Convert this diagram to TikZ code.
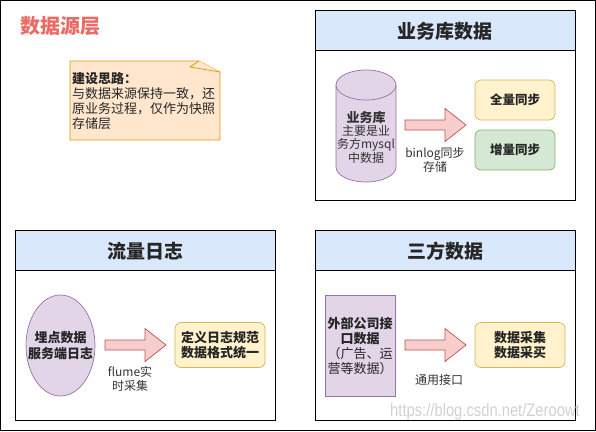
\documentclass[tikz,border=0pt]{standalone}
\usepackage{fontspec}
\setmainfont{Noto Sans CJK SC}
\newfontfamily\wmfont{Liberation Sans}
\usetikzlibrary{shapes.geometric}
\definecolor{hdrblue}{HTML}{DAE8FC}
\definecolor{purfill}{HTML}{E1D5E7}
\definecolor{purline}{HTML}{9673A6}
\definecolor{redfill}{HTML}{F8CECC}
\definecolor{redline}{HTML}{B85450}
\definecolor{yelfill}{HTML}{FFF2CC}
\definecolor{yelline}{HTML}{D6B656}
\definecolor{grnfill}{HTML}{D5E8D4}
\definecolor{grnline}{HTML}{82B366}
\definecolor{notefill}{HTML}{FFE6CC}
\definecolor{noteline}{HTML}{D79B00}
\definecolor{titlered}{HTML}{EA6B66}
\definecolor{txt}{HTML}{333333}
\tikzset{
  panel/.style={draw=black, line width=0.9pt},
  header/.style={draw=black, line width=0.9pt, fill=hdrblue},
  hdrtext/.style={font=\fontsize{19}{22}\selectfont\bfseries, text=black!85},
  body/.style={font=\fontsize{12}{13.5}\selectfont, align=center, text=txt, inner sep=0pt},
  bodyb/.style={font=\fontsize{13}{15.5}\selectfont\bfseries, align=center, text=black!85, inner sep=0pt},
  ybox/.style={draw=yelline, fill=yelfill, rounded corners=6pt, line width=0.7pt},
  gbox/.style={draw=grnline, fill=grnfill, rounded corners=6pt, line width=0.7pt},
  pshape/.style={draw=purline, fill=purfill, line width=0.7pt},
  barrow/.pic={
    \draw[draw=redline, fill=redfill, line width=0.7pt]
      (0,-5) -- (40,-5) -- (40,-16.5) -- (61,0) -- (40,16.5) -- (40,5) -- (0,5) -- cycle;
  }
}
\begin{document}
\begin{tikzpicture}[x=1pt,y=-1pt]
\useasboundingbox (0,0) rectangle (596,431);
\draw[line width=1.2pt] (0.6,0.6) rectangle (595.4,430.4);

% title
\node[font=\fontsize{20}{22}\selectfont\bfseries, text=titlered, inner sep=0pt] (title) at (60,26) {数据源层};

% note
\draw[draw=noteline, fill=notefill, line width=0.7pt] (70,61) -- (199,61) -- (220,72) -- (220,140) -- (70,140) -- cycle;
\draw[draw=noteline, fill=notefill, line width=0.7pt] (199,61) -- (190,67) -- (220,72);
\node[anchor=north west, align=left, inner sep=0pt, font=\fontsize{13}{15}\selectfont, text=black!85] (note) at (72,72)
  {\textbf{建设思路：}\\与数据来源保持一致，还\\原业务过程，仅作为快照\\存储层};

% panel 1: 业务库数据
\draw[panel] (315,10) rectangle (575,200);
\draw[header] (315,10) rectangle (575,50);
\node[hdrtext] (h1) at (445,31) {业务库数据};
\draw[pshape] (336,85) -- (336,167) arc[start angle=180, end angle=360, x radius=30pt, y radius=15pt]
  -- (396,85) arc[start angle=0, end angle=180, x radius=30pt, y radius=15pt] -- cycle;
\draw[draw=purline, line width=0.7pt] (336,85) arc[start angle=180, end angle=360, x radius=30pt, y radius=15pt];
\node[body, font=\fontsize{12}{13.4}\selectfont] (db) at (366,137) {\textbf{\fontsize{13}{13.4}\selectfont 业务库}\\主要是业\\务方mysql\\中数据};
\pic at (405,125) {barrow};
\node[body] (l1) at (435,160) {binlog同步\\存储};
\node[ybox, minimum width=80pt, minimum height=40pt] (full) at (515,100) {};
\node[bodyb, font=\fontsize{12.5}{15}\selectfont\bfseries] at (full) {全量同步};
\node[gbox, minimum width=80pt, minimum height=40pt] (inc) at (515,150) {};
\node[bodyb, font=\fontsize{12.5}{15}\selectfont\bfseries] at (inc) {增量同步};

% panel 2: 流量日志
\draw[panel] (15,230) rectangle (275,420);
\draw[header] (15,230) rectangle (275,270);
\node[hdrtext] (h2) at (145,251) {流量日志};
\node[pshape, ellipse, minimum width=69pt, minimum height=101pt, inner sep=0pt] (ell) at (60.5,345.5) {};
\node[bodyb] at (ell) {埋点数据\\服务端日志};
\pic at (105,345) {barrow};
\node[body] (l2) at (130,379) {flume实\\时采集};
\node[ybox, minimum width=90pt, minimum height=45pt] (log) at (220,345) {};
\node[bodyb] at (log) {定义日志规范\\数据格式统一};

% panel 3: 三方数据
\draw[panel] (315,230) rectangle (575,420);
\draw[header] (315,230) rectangle (575,270);
\node[hdrtext] (h3) at (445,251) {三方数据};
\node[pshape, minimum width=70pt, minimum height=101pt, inner sep=0pt] (ext) at (360,345.5) {};
\node[bodyb, font=\fontsize{13}{15}\selectfont] at (ext) {\textbf{外部公司接}\\\textbf{口数据}\\\mdseries（广告、运\\\mdseries 营等数据）};
\pic at (405,345) {barrow};
\node[body] (l3) at (439,380) {通用接口};
\node[ybox, minimum width=90pt, minimum height=45pt] (coll) at (520,345) {};
\node[bodyb] at (coll) {数据采集\\数据采买};

% watermark
\node[font=\wmfont\fontsize{18}{20}\selectfont, text=black!18, inner sep=0pt] (wm) at (485,412) {\scalebox{0.82}[1]{https://blog.csdn.net/Zeroowt}};
\end{tikzpicture}
\end{document}
